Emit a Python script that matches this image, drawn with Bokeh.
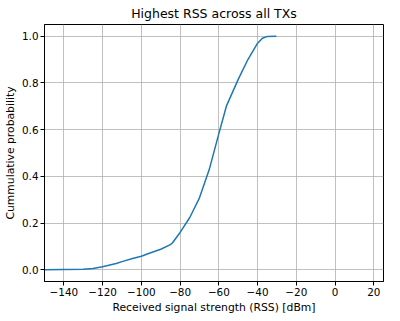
from bokeh.plotting import figure
from bokeh.models import FixedTicker, Range1d
from bokeh.embed import file_html
from bokeh.resources import INLINE

rss = [-150, -140, -130, -125, -120, -113, -110, -105, -100, -96.6, -90, -85, -84, -80,
       -75, -70, -65, -60, -56, -50, -45, -40, -37.5, -35, -30.3]
cdf = [0.0, 0.001, 0.002, 0.006, 0.013, 0.027, 0.035, 0.047, 0.058, 0.069, 0.088, 0.108,
       0.115, 0.16, 0.224, 0.308, 0.428, 0.583, 0.703, 0.815, 0.90, 0.97, 0.991, 0.999, 1.0]

x_ticks = [-140, -120, -100, -80, -60, -40, -20, 0, 20]
x_tick_labels = ["\u2212140", "\u2212120", "\u2212100", "\u221280", "\u221260", "\u221240",
                 "\u221220", "0", "20"]
y_ticks = [0.0, 0.2, 0.4, 0.6, 0.8, 1.0]
y_tick_labels = ["0.0", "0.2", "0.4", "0.6", "0.8", "1.0"]

FONT = "DejaVu Sans"

p = figure(width=384, height=316, output_backend="svg", toolbar_location=None,
           x_range=Range1d(-150, 25), y_range=Range1d(-0.05, 1.05),
           title="Highest RSS across all TXs",
           x_axis_label="Received signal strength (RSS) [dBm]",
           y_axis_label="Cummulative probability",
           min_border_right=1, min_border_top=0, min_border_left=4, min_border_bottom=0)

p.line(rss, cdf, line_color="#1f77b4", line_width=1.5)

p.title.align = "center"
p.title.text_font = FONT
p.title.text_font_style = "normal"
p.title.text_font_size = "12.5px"
p.title.text_color = "black"
p.title.standoff = 7
p.title.offset = 0

p.xaxis.ticker = FixedTicker(ticks=x_ticks)
p.xaxis.major_label_overrides = {t: l for t, l in zip(x_ticks, x_tick_labels)}
p.yaxis.ticker = FixedTicker(ticks=y_ticks)
p.yaxis.major_label_overrides = {t: l for t, l in zip(y_ticks, y_tick_labels)}

for ax in (p.xaxis, p.yaxis):
    ax.major_label_text_font = FONT
    ax.major_label_text_font_size = "10.4px"
    ax.major_label_text_color = "black"
    ax.axis_label_text_font = FONT
    ax.axis_label_text_font_size = "10.8px"
    ax.axis_label_text_font_style = "normal"
    ax.axis_label_text_color = "black"
    ax.minor_tick_line_color = None
    ax.major_tick_in = 0
    ax.major_tick_out = 4
    ax.major_tick_line_color = "black"
    ax.axis_line_color = "black"
    ax.axis_label_standoff = 2
    ax.major_label_standoff = 2

p.xgrid.grid_line_color = "#b0b0b0"
p.ygrid.grid_line_color = "#b0b0b0"
p.xgrid.grid_line_width = 0.8
p.ygrid.grid_line_width = 0.8
p.outline_line_color = "black"
p.outline_line_alpha = 1.0
p.outline_line_width = 1

open("out.html", "w").write(file_html(p, INLINE))
